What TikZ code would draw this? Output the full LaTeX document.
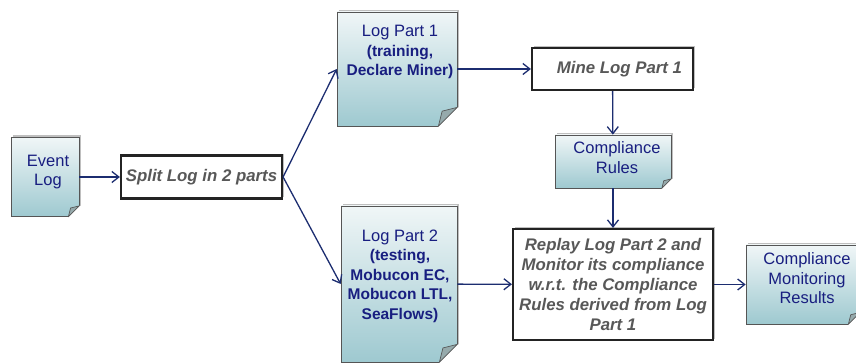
\documentclass[tikz,border=0pt]{standalone}
\usepackage{fontspec}
\setmainfont{Liberation Sans}
\usetikzlibrary{arrows.meta,shadows}
\definecolor{navytext}{RGB}{24,30,128}
\definecolor{flowblue}{RGB}{28,45,112}
\definecolor{doctop}{RGB}{240,246,247}
\definecolor{docbot}{RGB}{158,201,208}
\definecolor{docline}{RGB}{85,85,85}
\definecolor{foldfill}{RGB}{150,170,172}
\definecolor{procline}{RGB}{35,35,35}
\definecolor{proctext}{RGB}{88,88,88}
\tikzset{
  doc/.style={draw=docline, line width=0.7pt, top color=doctop, bottom color=docbot,
    drop shadow={shadow xshift=2pt, shadow yshift=2pt, fill=black, opacity=0.25}},
  doctext/.style={text=navytext, align=center, font=\fontsize{16.5}{19.5}\selectfont},
  proc/.style={draw=procline, line width=2.2pt, fill=white, text=proctext, align=center,
    font=\fontsize{16.8}{20}\selectfont\bfseries\itshape,
    drop shadow={shadow xshift=1.5pt, shadow yshift=1.5pt, fill=black, opacity=0.25}},
  flow/.style={draw=flowblue, line width=1.3pt, -{Straight Barb[length=7pt,width=11pt]}}
}
% bold lines of the document notes
\newcommand{\boldline}[1]{{\fontsize{15.5}{19.5}\selectfont\bfseries #1}}
% folded corner of a document note: #1 node, #2 fold size
\newcommand{\docfold}[2]{%
  \fill[white] ([yshift=#2]#1.south east) -- ([xshift=3pt,yshift=#2]#1.south east)
    -- ([xshift=3pt,yshift=-3pt]#1.south east) -- ([xshift=-#2,yshift=-3pt]#1.south east)
    -- ([xshift=-#2]#1.south east) -- cycle;
  \filldraw[fill=foldfill, draw=docline, line width=0.7pt, line join=round]
    ([yshift=#2]#1.south east) -- ([xshift=-#2]#1.south east)
    -- ([xshift={-0.8*#2},yshift={0.8*#2}]#1.south east) -- cycle;
}
\begin{document}
\begin{tikzpicture}[x=1pt, y=-1pt]
    \useasboundingbox (0,0) rectangle (856,363);
    % documents
    \node[doc, minimum width=68, minimum height=79,
      label={[name=event-text, doctext, xshift=3pt, yshift=5pt]center:{Event\\Log}}] (event) at (45,177) {};
    \docfold{event}{11pt}
    \node[doc, minimum width=120, minimum height=114,
      label={[name=part1-text, doctext, xshift=3pt, yshift=17pt]center:{Log Part 1\\\boldline{(training,}\\\boldline{Declare Miner)}}}] (part1) at (397,69) {};
    \docfold{part1}{19pt}
    \node[doc, minimum width=116, minimum height=156,
      label={[name=part2-text, doctext, xshift=1pt, yshift=8pt]center:{Log Part 2\\\boldline{(testing,}\\\boldline{Mobucon EC,}\\\boldline{Mobucon LTL,}\\\boldline{SeaFlows)}}}] (part2) at (399,284) {};
    \docfold{part2}{18pt}
    \node[doc, minimum width=116, minimum height=53,
      label={[name=rules-text, doctext, xshift=4pt, yshift=4pt]center:{Compliance\\Rules}}] (rules) at (613,161.5) {};
    \docfold{rules}{9.5pt}
    \node[doc, minimum width=114, minimum height=79,
      label={[name=results-text, doctext, xshift=4pt, yshift=6pt]center:{Compliance\\Monitoring\\Results}}] (results) at (803,284.5) {};
    \docfold{results}{12pt}
    % processes
    \node[proc, minimum width=161, minimum height=43] (split) at (201.5,177) {Split Log in 2 parts};
    \node[proc, minimum width=161, minimum height=42] (mine) at (612.5,69) {\hspace{14pt}Mine Log Part 1};
    \node[proc, minimum width=200, minimum height=111] (replay) at (613,284.5)
      {Replay Log Part 2 and\\Monitor its compliance\\w.r.t. the Compliance\\Rules derived from Log\\Part 1};
    % flows
    \draw[flow] (event) -- (split);
    \draw[flow] (split.east) -- (part1.west);
    \draw[flow] (split.east) -- (part2.west);
    \draw[flow] (part1) -- (mine);
    \draw[flow] (mine) -- (rules);
    \draw[flow] (rules) -- (replay);
    \draw[flow] (part2) -- (replay);
    \draw[flow] (replay) -- (results);
\end{tikzpicture}
\end{document}
